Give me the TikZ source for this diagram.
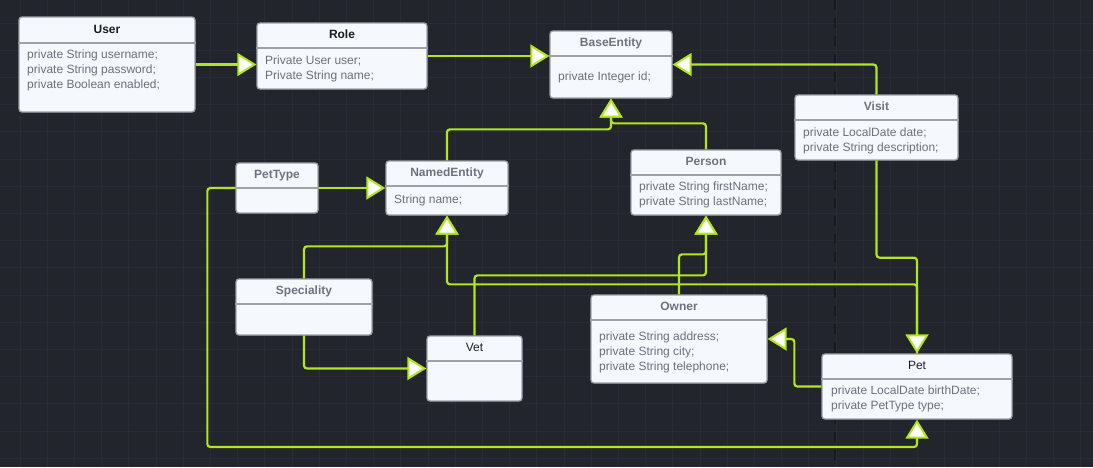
\documentclass[tikz,border=0pt]{standalone}
\usepackage{fontspec}
\setmainfont{Liberation Sans}
\usetikzlibrary{arrows.meta}
\definecolor{bg}{HTML}{22252C}
\definecolor{gridc}{HTML}{282C34}
\definecolor{dashc}{HTML}{17191D}
\definecolor{lime}{HTML}{B2E61E}
\definecolor{boxfill}{HTML}{F5F9FE}
\definecolor{boxline}{HTML}{9EA1A6}
\definecolor{greytext}{HTML}{6B6F79}
\definecolor{titlegrey}{HTML}{6E727C}
\definecolor{titleblack}{HTML}{1C1C1E}
\newcommand\umlclass[8]{% name, x1, y1, x2, y2, divider y, title style, title
  \node[classbox, minimum width={#4-#2}, minimum height={#5-#3}] (#1) at ({(#2+#4)/2},{(#3+#5)/2}) {};
  \draw[divider] (#1.west |- 0,#6) -- (#1.east |- 0,#6);
  \node[#7, anchor=base] (#1-title) at ({(#2+#4)/2},{(#3+#6)/2+3.3}) {#8};
}
\newcommand\umlfields[4]{% name, x, first y, list
  \foreach \t [count=\i from 0] in {#4} {
    \node[fieldtext, anchor=base west] (#1-f\i) at (#2+8,{#3+4+15*\i}) {\t};
  }
}
\begin{document}
\begin{tikzpicture}[x=1pt,y=-1pt,
  classbox/.style={draw=boxline, fill=boxfill, line width=1.3pt, rounded corners=3pt, inner sep=0pt},
  divider/.style={draw=boxline, line width=1.3pt},
  titlebold/.style={font=\fontsize{12}{14}\selectfont\bfseries, text=titleblack, inner sep=0pt},
  titlegreyb/.style={font=\fontsize{12}{14}\selectfont\bfseries, text=titlegrey, inner sep=0pt},
  titleplain/.style={font=\fontsize{12}{14}\selectfont, text=titleblack, inner sep=0pt},
  fieldtext/.style={font=\fontsize{12}{14}\selectfont, text=greytext, inner sep=0pt},
  conn/.style={draw=lime, line width=2.2pt, rounded corners=3pt,
    -{Triangle[length=19pt, width=23pt, fill=white, line width=2pt]}}]
\useasboundingbox (0,0) rectangle (1093,467);
\fill[bg] (0,0) rectangle (1093,467);
\foreach \i in {0,...,40} \draw[gridc, line width=1pt] ({20+27.2*\i},0) -- ({20+27.2*\i},467);
\foreach \i in {0,...,17} \draw[gridc, line width=1pt] (0,{23+27.2*(\i-1)}) -- (1093,{23+27.2*(\i-1)});
\draw[dashc, line width=2pt, dash pattern=on 10pt off 8pt] (835,0) -- (835,467);

% classes
\umlclass{user}{19}{17}{195}{112}{43}{titlebold}{User}
\umlfields{user}{19}{54}{private String username;,private String password;,private Boolean enabled;}
\umlclass{role}{257}{23}{427}{89}{48}{titlebold}{Role}
\umlfields{role}{257}{60}{Private User user;,Private String name;}
\umlclass{base}{550}{31}{672}{98}{56}{titlegreyb}{BaseEntity}
\umlfields{base}{550}{76}{private Integer id;}
\umlclass{visit}{795}{95}{958}{160}{120}{titlegreyb}{Visit}
\umlfields{visit}{795}{132}{private LocalDate date;,private String description;}
\umlclass{person}{631}{150}{781}{215}{175}{titlegreyb}{Person}
\umlfields{person}{631}{186}{private String firstName;,private String lastName;}
\umlclass{named}{386}{161}{508}{215}{186}{titlegreyb}{NamedEntity}
\umlfields{named}{386}{199}{String name;}
\umlclass{pettype}{236}{163}{318}{213}{188}{titlegreyb}{PetType}
\umlclass{spec}{236}{279}{372}{335}{304}{titlegreyb}{Speciality}
\umlclass{vet}{427}{336}{522}{401}{361}{titleplain}{Vet}
\umlclass{owner}{591}{295}{767}{383}{320}{titlegreyb}{Owner}
\umlfields{owner}{591}{336}{private String address;,private String city;,private String telephone;}
\umlclass{pet}{822}{354}{1012}{419}{379}{titleplain}{Pet}
\umlfields{pet}{823}{390}{private LocalDate birthDate;,private PetType type;}

% connectors
\draw[conn] (user.east) -- (user.east -| role.west);
\draw[conn] (role.east) -- (role.east -| base.west);
\draw[conn] (visit.north) |- (base.east);
\draw[conn] (named.north) -- ++(0,-31) -| (base.south);
\draw[conn] (person.north) -- ++(0,-26) -| (base.south);
\draw[conn] (pettype.east) -- (pettype.east -| named.west);
\draw[conn] (spec.north) -- ++(0,-32) -| (named.south);
\draw[conn] (pet.north) -- ++(0,-69) -| (named.south);
\draw[conn] (visit.south) -- ++(0,97) -| (pet.north);
\draw[conn] (vet.north) -- ++(0,-60) -| (person.south);
\draw[conn] (owner.north) -- ++(0,-40) -| (person.south);
\draw[conn] (spec.south) |- (vet.west);
\draw[conn] (pet.west) -- ++(-27,0) |- (owner.east);
\draw[conn] (pettype.west) -- ++(-28,0) -- ++(0,259) -| (pet.south);
\end{tikzpicture}
\end{document}
